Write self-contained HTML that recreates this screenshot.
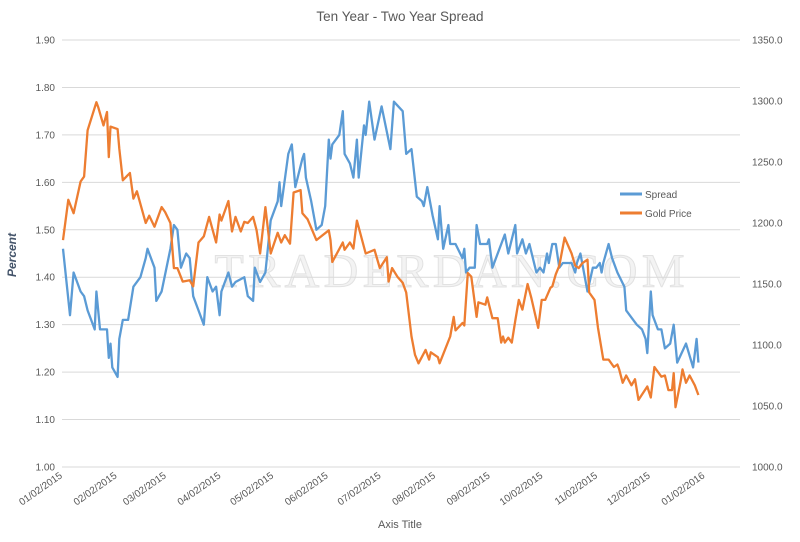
<!DOCTYPE html>
<html><head><meta charset="utf-8"><style>
body{margin:0;background:#fff;font-family:"Liberation Sans",sans-serif}
svg text{font-family:"Liberation Sans",sans-serif}
svg text.wm{font-family:"Liberation Serif",serif}
</style></head><body>
<svg id="c" width="800" height="537" xmlns="http://www.w3.org/2000/svg">
<text x="400" y="21" text-anchor="middle" font-size="13.5" fill="#595959">Ten Year - Two Year Spread</text>
<text class="wm" x="452" y="287" text-anchor="middle" font-size="48" fill="#f3f3f3" stroke="#e2e2e2" stroke-width="1" letter-spacing="5" textLength="475">TRADERDAN.COM</text>
<g id="grid"></g><g id="series"></g><g id="labels"></g>
<text transform="translate(16,255) rotate(-90)" text-anchor="middle" font-size="12" font-weight="bold" font-style="italic" fill="#44546a">Percent</text>
<text x="400" y="528" text-anchor="middle" font-size="11" fill="#595959">Axis Title</text>
<g>
<line x1="620" y1="194" x2="642" y2="194" stroke="#5b9bd5" stroke-width="3"/>
<text x="645" y="198" font-size="10" fill="#595959">Spread</text>
<line x1="620" y1="213" x2="642" y2="213" stroke="#ed7d31" stroke-width="3"/>
<text x="645" y="217" font-size="10" fill="#595959">Gold Price</text>
</g>
</svg>
<script>
const leftTicks=[1.00,1.10,1.20,1.30,1.40,1.50,1.60,1.70,1.80,1.90];
const rightTicks=[1000,1050,1100,1150,1200,1250,1300,1350];
const monthDays=[0,31,59,90,120,151,181,212,243,273,304,334,365];
const monthLabels=["01/02/2015","02/02/2015","03/02/2015","04/02/2015","05/02/2015","06/02/2015","07/02/2015","08/02/2015","09/02/2015","10/02/2015","11/02/2015","12/02/2015","01/02/2016"];
const spreadData=[[0,1.46],[4,1.32],[6,1.41],[10,1.37],[12,1.36],[14,1.33],[18,1.29],[19,1.37],[21,1.29],[25,1.29],[26,1.23],[27,1.26],[28,1.21],[31,1.19],[32,1.27],[34,1.31],[37,1.31],[40,1.38],[44,1.40],[47,1.44],[48,1.46],[52,1.42],[53,1.35],[56,1.37],[61,1.46],[63,1.51],[65,1.50],[67,1.42],[70,1.45],[72,1.44],[74,1.36],[77,1.33],[80,1.30],[82,1.40],[85,1.37],[87,1.38],[89,1.32],[90,1.37],[94,1.41],[96,1.38],[98,1.39],[103,1.40],[105,1.36],[108,1.35],[109,1.42],[112,1.39],[115,1.41],[118,1.52],[122,1.56],[123,1.60],[124,1.55],[128,1.66],[130,1.68],[132,1.59],[136,1.65],[137,1.66],[138,1.61],[141,1.56],[144,1.50],[147,1.51],[149,1.55],[151,1.69],[152,1.65],[153,1.68],[157,1.70],[159,1.75],[160,1.66],[163,1.64],[165,1.61],[167,1.69],[168,1.61],[171,1.72],[172,1.70],[174,1.77],[177,1.69],[181,1.76],[186,1.67],[188,1.77],[193,1.75],[195,1.66],[198,1.67],[201,1.57],[204,1.56],[205,1.55],[207,1.59],[210,1.53],[213,1.48],[214,1.55],[216,1.46],[219,1.51],[220,1.47],[223,1.47],[227,1.44],[228,1.46],[229,1.41],[231,1.42],[234,1.42],[235,1.51],[237,1.47],[241,1.47],[242,1.48],[244,1.42],[251,1.49],[253,1.45],[257,1.51],[258,1.45],[261,1.48],[263,1.45],[265,1.47],[269,1.41],[271,1.42],[273,1.41],[275,1.45],[276,1.43],[278,1.47],[280,1.47],[282,1.42],[284,1.43],[289,1.43],[291,1.41],[292,1.43],[294,1.45],[298,1.37],[301,1.42],[303,1.42],[305,1.43],[306,1.41],[307,1.43],[310,1.47],[312,1.44],[315,1.41],[319,1.38],[320,1.33],[322,1.32],[326,1.30],[329,1.29],[331,1.27],[332,1.24],[334,1.37],[335,1.32],[338,1.29],[340,1.29],[342,1.25],[345,1.26],[347,1.30],[349,1.22],[354,1.26],[358,1.21],[360,1.27],[361,1.22]];
const goldData=[[0,1186],[3,1219],[6,1208],[10,1234],[12,1238],[14,1276],[19,1299],[20,1295],[23,1280],[25,1291],[26,1254],[27,1279],[31,1277],[32,1261],[34,1235],[38,1241],[40,1220],[42,1226],[47,1200],[49,1206],[52,1197],[56,1213],[58,1209],[61,1200],[63,1163],[65,1163],[68,1152],[72,1153],[74,1148],[77,1184],[80,1189],[83,1205],[87,1184],[89,1207],[90,1202],[94,1218],[96,1193],[98,1205],[101,1193],[103,1201],[105,1200],[108,1205],[110,1194],[112,1175],[115,1213],[118,1175],[122,1192],[124,1184],[126,1190],[129,1183],[131,1225],[135,1227],[136,1208],[139,1203],[144,1186],[151,1194],[152,1186],[153,1168],[159,1184],[160,1178],[163,1184],[165,1179],[167,1202],[172,1175],[177,1178],[180,1163],[184,1172],[185,1152],[187,1163],[190,1156],[193,1151],[195,1143],[198,1107],[200,1092],[202,1085],[206,1096],[208,1088],[209,1094],[213,1090],[214,1085],[217,1096],[220,1107],[222,1123],[223,1112],[227,1118],[228,1116],[230,1159],[232,1156],[235,1123],[236,1135],[240,1133],[241,1139],[244,1122],[247,1122],[249,1102],[250,1107],[251,1102],[253,1106],[255,1102],[257,1120],[259,1137],[261,1129],[264,1150],[266,1139],[270,1114],[272,1137],[274,1137],[277,1147],[278,1148],[280,1158],[282,1165],[285,1188],[289,1175],[291,1165],[293,1163],[295,1167],[298,1170],[299,1143],[302,1137],[304,1114],[307,1088],[310,1088],[313,1082],[315,1084],[316,1080],[318,1069],[320,1075],[323,1067],[325,1072],[327,1055],[332,1066],[334,1057],[336,1082],[340,1074],[342,1075],[344,1063],[346,1063],[347,1077],[348,1049],[351,1071],[352,1080],[354,1069],[356,1075],[359,1067],[361,1059]];

const NS="http://www.w3.org/2000/svg";
const X0=62,X1=740,Y0=467,Y1=40;
const xS=d=>63+d*1.76;
const yL=v=>Y0-(v-1.0)/0.9*(Y0-Y1);
const yR=v=>Y0-(v-1000)/350*(Y0-Y1);
function mk(tag,attrs,parent){const e=document.createElementNS(NS,tag);for(const k in attrs)e.setAttribute(k,attrs[k]);parent.appendChild(e);return e;}
const grid=document.getElementById('grid'),labels=document.getElementById('labels'),series=document.getElementById('series');
leftTicks.forEach(v=>{
  const l=mk('line',{x1:X0,x2:X1,y1:yL(v),y2:yL(v),stroke:'#d9d9d9','stroke-width':1},grid);
  
  
  const t=mk('text',{x:55,y:yL(v)+3.5,'text-anchor':'end','font-size':10,fill:'#595959'},labels);
  t.textContent=v.toFixed(2);
  
  
});
rightTicks.forEach(v=>{
  const t=mk('text',{x:752,y:yR(v)+3.5,'font-size':10,fill:'#595959'},labels);
  t.textContent=v.toFixed(1);
  
  
});
monthDays.forEach((d,i)=>{
  const x=xS(d),y=477;
  const t=mk('text',{x:x,y:y,'text-anchor':'end','font-size':10,fill:'#595959',transform:`rotate(-35 ${x} ${y})`},labels);
  t.textContent=monthLabels[i];
  
  
});
function line(data,yf,color,name){
  const p=mk('polyline',{points:data.map(d=>xS(d[0]).toFixed(1)+','+yf(d[1]).toFixed(1)).join(' '),fill:'none',stroke:color,'stroke-width':2.3,'stroke-linejoin':'round'},series);
  
  
}
line(spreadData,yL,'#5b9bd5','spread-line');
line(goldData,yR,'#ed7d31','gold-price-line');
</script>
</body></html>
